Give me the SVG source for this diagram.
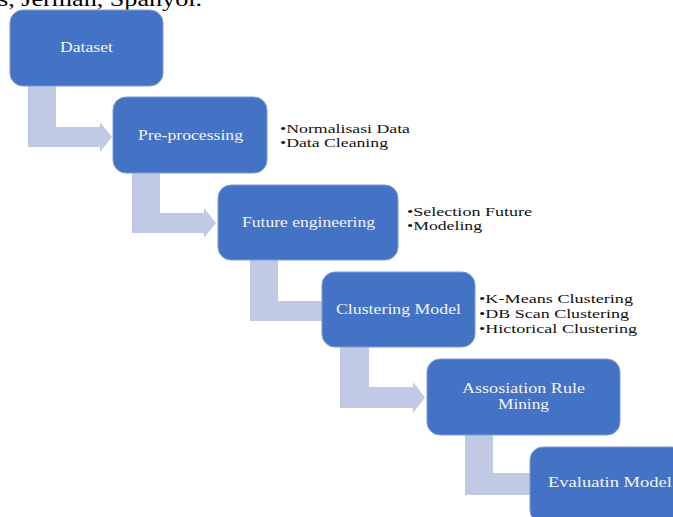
<svg xmlns="http://www.w3.org/2000/svg" width="673" height="517" viewBox="0 0 673 517">
<style>
.box{fill:#4472C4;stroke:#7C9BD6;stroke-width:1}
.lbl{font-family:"Liberation Serif","Times New Roman",serif;font-size:15px;fill:#F2F4FA;text-anchor:middle}
.lbl2{font-family:"Liberation Serif","Times New Roman",serif;font-size:14px;fill:#F2F4FA;text-anchor:middle}
.lst{font-family:"Liberation Serif","Times New Roman",serif;font-size:13px;fill:#111}
.arr{fill:#C0CAE4}
.top{font-family:"Liberation Serif","Times New Roman",serif;font-size:22px;fill:#000}
</style>
<rect width="673" height="517" fill="#fff"/>
<text class="top" x="-2" y="6" textLength="204" lengthAdjust="spacingAndGlyphs">s, Jerman, Spanyol.</text>
<g id="connectors">
<polygon class="arr" points="28,86 56,86 56,127 100,127 100,122 112,137 100,152 100,147 28,147"/>
<polygon class="arr" points="132,173 160,173 160,213 204,213 204,208 216,223 204,238 204,233 132,233"/>
<polygon class="arr" points="250,260 278,260 278,301 323,301 323,321 250,321"/>
<polygon class="arr" points="340,347 369,347 369,387 413,387 413,382 425,397.5 413,413 413,408 340,408"/>
<polygon class="arr" points="465,435 493,435 493,473 531,473 531,495 465,495"/>
</g>
<g id="dataset">
<rect class="box" x="10" y="10" width="153" height="76" rx="13"/>
<text class="lbl" x="86.5" y="52" textLength="53" lengthAdjust="spacingAndGlyphs">Dataset</text>
</g>
<g id="preprocessing">
<rect class="box" x="113" y="97" width="154" height="76" rx="13"/>
<text class="lbl" x="190.5" y="140" textLength="105" lengthAdjust="spacingAndGlyphs">Pre-processing</text>
<text class="lst" x="280" y="133" textLength="130" lengthAdjust="spacingAndGlyphs">•Normalisasi Data</text>
<text class="lst" x="280" y="147" textLength="108" lengthAdjust="spacingAndGlyphs">•Data Cleaning</text>
</g>
<g id="future-engineering">
<rect class="box" x="218" y="185" width="180" height="75" rx="13"/>
<text class="lbl" x="308.5" y="227" textLength="133" lengthAdjust="spacingAndGlyphs">Future engineering</text>
<text class="lst" x="407" y="216" textLength="125" lengthAdjust="spacingAndGlyphs">•Selection Future</text>
<text class="lst" x="407" y="230" textLength="75" lengthAdjust="spacingAndGlyphs">•Modeling</text>
</g>
<g id="clustering-model">
<rect class="box" x="322" y="272" width="153" height="75" rx="13"/>
<text class="lbl" x="398.5" y="314" textLength="125" lengthAdjust="spacingAndGlyphs">Clustering Model</text>
<text class="lst" x="479" y="303" textLength="154" lengthAdjust="spacingAndGlyphs">•K-Means Clustering</text>
<text class="lst" x="479" y="318" textLength="150" lengthAdjust="spacingAndGlyphs">•DB Scan Clustering</text>
<text class="lst" x="479" y="333" textLength="158" lengthAdjust="spacingAndGlyphs">•Hictorical Clustering</text>
</g>
<g id="association-rule-mining">
<rect class="box" x="427" y="359" width="193" height="76" rx="13"/>
<text class="lbl2" x="523.5" y="393" textLength="123" lengthAdjust="spacingAndGlyphs">Assosiation Rule</text>
<text class="lbl2" x="523.5" y="409" textLength="51" lengthAdjust="spacingAndGlyphs">Mining</text>
</g>
<g id="evaluation-model">
<rect class="box" x="530" y="447" width="155" height="76" rx="13"/>
<text class="lbl" x="610" y="487" textLength="124" lengthAdjust="spacingAndGlyphs">Evaluatin Model</text>
</g>
</svg>
